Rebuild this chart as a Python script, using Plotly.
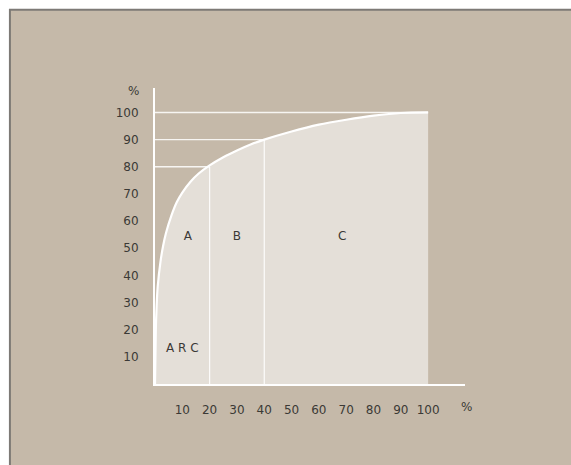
import plotly.graph_objects as go

# Cumulative curve (% of items -> % of value)
curve_x = [0, 0.3, 0.6, 1, 2, 3, 4, 6, 8, 10, 13, 16, 20, 25, 30, 35, 40, 50, 60, 70, 80, 90, 100]
curve_y = [0, 20, 29, 36, 45, 51, 55.5, 62, 67, 70.5, 74.5, 77.5, 80.5, 83.5, 86, 88.2, 90, 93, 95.5, 97.3, 98.8, 99.8, 100]

# Class boundaries
bound_x = [20, 40, 100]
bound_y = [80, 90, 100]

x_ticks = [10, 20, 30, 40, 50, 60, 70, 80, 90, 100]
y_ticks = [10, 20, 30, 40, 50, 60, 70, 80, 90, 100]

class_labels = ["A", "B", "C"]
class_label_x = [12, 30, 68.5]
class_label_y = [54, 54, 54]
corner_label = "A R C"
corner_label_pos = [10, 13]

TAN = "#c5b9a9"
FILL = "#e4dfd8"
TXT = "#3b3936"
FONT = "DejaVu Sans"

fig = go.Figure()

fig.add_trace(go.Scatter(
    x=curve_x, y=curve_y, mode="lines", fill="tozeroy",
    fillcolor=FILL, line=dict(color="white", width=2.2, shape="spline", smoothing=0.8),
    hoverinfo="skip", showlegend=False))

# horizontal guide lines from the y axis to the curve
for bx, by in zip(bound_x, bound_y):
    fig.add_trace(go.Scatter(x=[0, bx], y=[by, by], mode="lines",
                             line=dict(color="rgba(255,255,255,0.85)", width=1.4),
                             hoverinfo="skip", showlegend=False))
# vertical class dividers
for bx, by in zip(bound_x[:2], bound_y[:2]):
    fig.add_trace(go.Scatter(x=[bx, bx], y=[0, by], mode="lines",
                             line=dict(color="rgba(255,255,255,0.9)", width=1.2),
                             hoverinfo="skip", showlegend=False))

fig.add_trace(go.Scatter(x=class_label_x, y=class_label_y, mode="text", text=class_labels,
                         textfont=dict(family=FONT, size=12, color=TXT),
                         hoverinfo="skip", showlegend=False))
fig.add_trace(go.Scatter(x=[corner_label_pos[0]], y=[corner_label_pos[1]], mode="text",
                         text=[corner_label], textfont=dict(family=FONT, size=12, color=TXT),
                         hoverinfo="skip", showlegend=False))

# frame
fig.add_shape(type="rect", xref="paper", yref="paper", x0=-0.468, x1=1.4, y0=-0.3, y1=1.264,
              fillcolor=TAN, line=dict(color="#7d7a76", width=2), layer="below")

fig.add_annotation(text="%", xref="paper", yref="paper", x=(133 - 155) / 310, y=(384 - 91) / 296,
                   xanchor="center", yanchor="middle",
                   showarrow=False, font=dict(family=FONT, size=12, color=TXT))
fig.add_annotation(text="%", xref="paper", yref="paper", x=(467 - 155) / 310, y=(384 - 407) / 296,
                   xanchor="center", yanchor="middle",
                   showarrow=False, font=dict(family=FONT, size=12, color=TXT))

fig.update_layout(
    width=571, height=465,
    margin=dict(l=155, r=106, t=88, b=81),
    paper_bgcolor="white", plot_bgcolor="rgba(0,0,0,0)",
    font=dict(family=FONT, size=12, color=TXT),
    xaxis=dict(range=[0, 113.5], tickvals=x_ticks, ticktext=[str(v) for v in x_ticks],
               showgrid=False, zeroline=False, showline=True, linecolor="white", linewidth=2,
               ticks="", ticklabelstandoff=14, fixedrange=True),
    yaxis=dict(range=[0, 109], tickvals=y_ticks, ticktext=[str(v) for v in y_ticks],
               showgrid=False, zeroline=False, showline=True, linecolor="white", linewidth=2,
               ticks="", ticklabelstandoff=12, fixedrange=True),
)

fig.write_html("out.html", config={"displayModeBar": False},
               post_script="document.body.style.margin='0px';document.body.style.overflow='hidden';")
